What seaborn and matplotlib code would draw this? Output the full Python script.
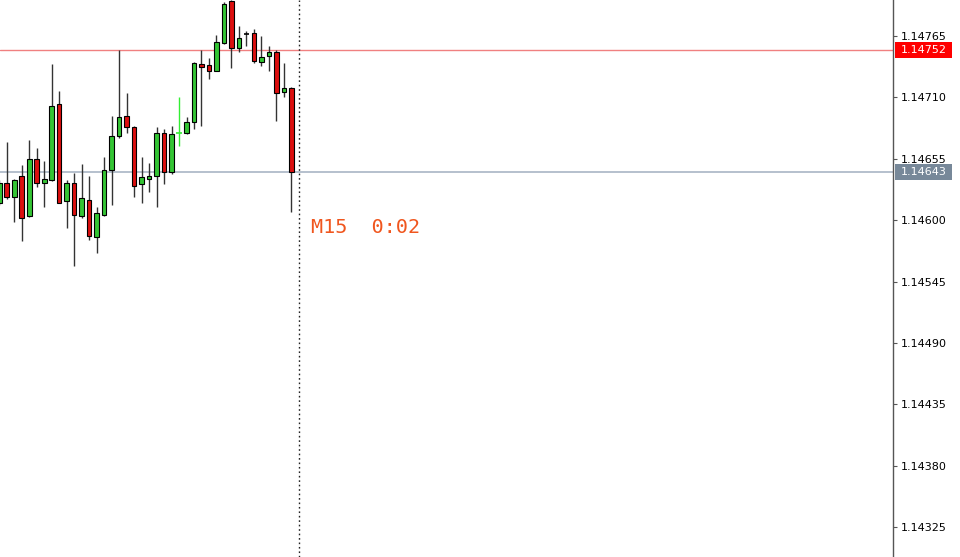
import numpy as np
import seaborn as sns
import matplotlib.pyplot as plt
import matplotlib.transforms as mtransforms
from matplotlib.patches import Rectangle

opens = [114615, 114633, 114621, 114640, 114604, 114655, 114633, 114636, 114704, 114617,
         114633, 114604, 114618, 114585, 114605, 114645, 114675, 114693, 114683, 114632,
         114637, 114640, 114678, 114643, 114678, 114678, 114688, 114740, 114739, 114734,
         114759, 114796, 114754, 114767, 114768, 114742, 114747, 114751, 114715, 114718]
highs = [114636, 114670, 114637, 114649, 114672, 114665, 114653, 114740, 114716, 114636,
         114642, 114650, 114640, 114612, 114657, 114693, 114752, 114714, 114684, 114657,
         114651, 114683, 114682, 114684, 114710, 114692, 114742, 114752, 114745, 114766,
         114795, 114797, 114774, 114769, 114771, 114765, 114756, 114752, 114741, 114719]
lows = [114614, 114619, 114598, 114581, 114603, 114630, 114612, 114635, 114615, 114593,
        114559, 114602, 114582, 114571, 114604, 114614, 114674, 114678, 114621, 114615,
        114625, 114612, 114632, 114641, 114666, 114677, 114682, 114684, 114726, 114734,
        114758, 114736, 114751, 114756, 114741, 114738, 114734, 114689, 114710, 114607]
closes = [114633, 114621, 114636, 114602, 114655, 114633, 114637, 114702, 114615, 114633,
          114605, 114620, 114586, 114606, 114645, 114675, 114692, 114683, 114631, 114639,
          114640, 114678, 114643, 114677, 114678, 114688, 114741, 114737, 114734, 114760,
          114794, 114754, 114763, 114767, 114743, 114746, 114751, 114714, 114718, 114643]

ask_line = 1.14752
bid_line = 1.14643
tick_values = [1.14325, 1.14380, 1.14435, 1.14490, 1.14545, 1.14600, 1.14655, 1.14710, 1.14765]
timer_label = "M15  0:02"

o = np.array(opens) / 1e5
h = np.array(highs) / 1e5
l = np.array(lows) / 1e5
c = np.array(closes) / 1e5
x = np.arange(len(o))

sns.set_theme(style="white")
plt.rcParams['font.family'] = ['DejaVu Sans']

verde = "#34c534"
rojo = "#dc0f0f"

fig = plt.figure(figsize=(9.6, 5.57), dpi=100)
ax = fig.add_axes([0, 0, 893 / 960, 1])

ymin, ymax = 1.142983, 1.147972
ax.set_xlim(0.1, 0.1 + 893 / 7.49)
ax.set_ylim(ymin, ymax)

# líneas horizontales de precio
ax.axhline(ask_line, color="#f08080", lw=1, zorder=1)
ax.axhline(bid_line, color="#a9b5c5", lw=1.2, zorder=1)

# velas
sube = c > o
baja = c < o
doji = c == o
color_doji = {24: "#33ee33"}
wick_col = [color_doji.get(i, "#333333") if doji[i] else "#333333" for i in x]
ax.vlines(x, l, h, colors=wick_col, lw=1, zorder=2)
ax.bar(x[sube], (c - o)[sube], bottom=o[sube], width=0.62, color=verde,
       edgecolor="black", lw=0.8, zorder=3)
ax.bar(x[baja], (o - c)[baja], bottom=c[baja], width=0.62, color=rojo,
       edgecolor="black", lw=0.8, zorder=3)
for i in x[doji]:
    ax.hlines(o[i], i - 0.35, i + 0.35, colors=color_doji.get(i, "black"), lw=1.2, zorder=3)

# línea vertical punteada (vela actual)
ax.axvline(len(o), color="#222222", lw=1, linestyle=(0, (1.2, 2)), zorder=1)

ax.text(41.6, 1.145935, timer_label, color="#f0561e", fontsize=14.5,
        family="DejaVu Sans Mono", va="center", ha="left")

# eje de precios a la derecha
ax.yaxis.tick_right()
ax.set_yticks(tick_values)
ax.set_yticklabels([f"{v:.5f}" for v in tick_values])
ax.tick_params(axis="y", right=True, length=3, width=0.8, color="#555555",
               labelsize=8, pad=2.5, labelcolor="black")
ax.set_xticks([])
for lado in ["top", "bottom", "left"]:
    ax.spines[lado].set_visible(False)
ax.spines["right"].set_color("#555555")
ax.spines["right"].set_linewidth(1)
ax.grid(False)

# etiquetas de precio actuales
trans = mtransforms.blended_transform_factory(fig.transFigure, ax.transData)
alto = 16 * (ymax - ymin) / 557
for precio, fondo in [(ask_line, "#ff0000"), (bid_line, "#778899")]:
    ax.add_patch(Rectangle((895 / 960, precio - alto / 2), 57 / 960, alto,
                           transform=trans, facecolor=fondo, edgecolor="none",
                           clip_on=False, zorder=5))
    ax.text(923.5 / 960, precio, f"{precio:.5f}", transform=trans, color="white",
            fontsize=8, ha="center", va="center", zorder=6, clip_on=False)

fig.savefig("out.png", dpi=100)
